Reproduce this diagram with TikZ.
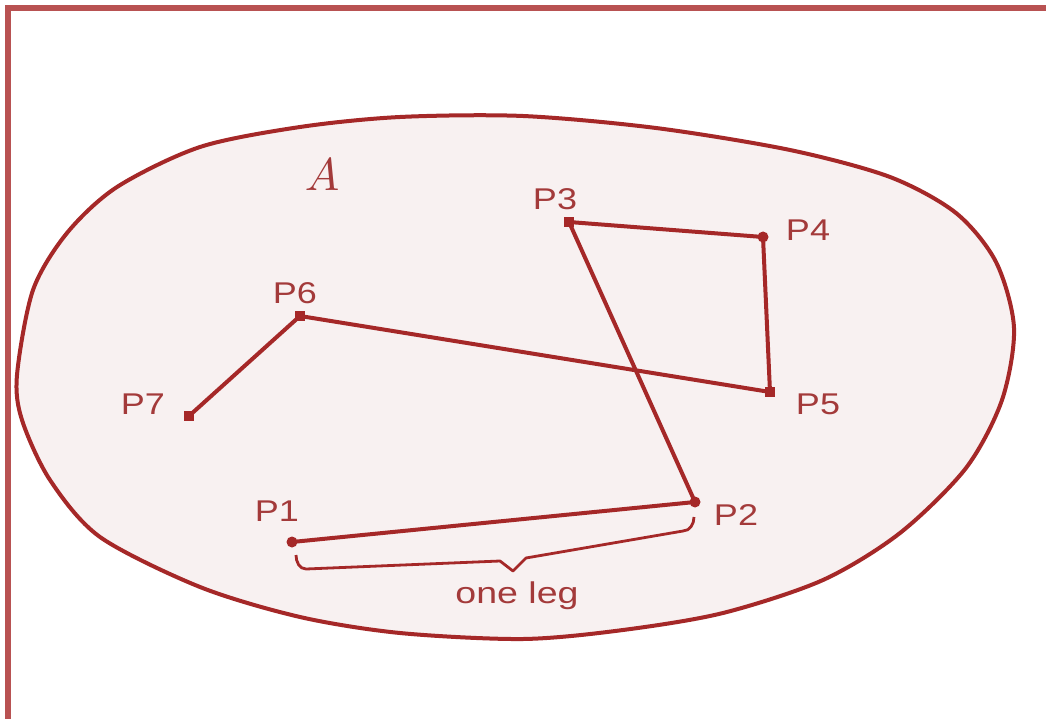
\documentclass[tikz,border=0pt]{standalone}
\usepackage{fontspec}
\usepackage{graphicx}
\newfontfamily\lab{Liberation Sans}
\definecolor{frame}{HTML}{B85252}
\definecolor{ink}{HTML}{A52828}
\definecolor{txt}{HTML}{A33A3A}
\definecolor{blobfill}{HTML}{F8F1F1}
\tikzset{
  conn/.style={draw=ink, line width=4pt},
  sqmark/.style={rectangle, fill=ink, minimum size=10pt, inner sep=0pt},
  dotmark/.style={circle, fill=ink, minimum size=11pt, inner sep=0pt},
  lbl/.style={text=txt, font=\lab\fontsize{30}{30}\selectfont, inner sep=0pt, anchor=center},
}
\begin{document}
\begin{tikzpicture}[x=1pt,y=-1pt]
\useasboundingbox (0,0) rectangle (1046,719);
\fill[white] (0,0) rectangle (1046,719);
% frame
\draw[frame, line width=6pt] (5,8.5) -- (1046,8.5);
\draw[frame, line width=6pt] (8,5.5) -- (8,719);
% set A
\draw[ink, line width=4pt, fill=blobfill] plot[smooth cycle, tension=0.5] coordinates {
 (17,375) (33,290) (67,233) (117,187) (200,147) (300,127) (400,117) (523,116)
 (656,128) (790,150) (890,177) (956,213) (996,262) (1014,328) (1002,400)
 (966,468) (900,533) (823,580) (723,613) (623,630) (523,639)
 (400,633) (300,617) (200,587) (100,537) (50,480) (22,420)};
\node[text=txt, inner sep=0pt] (setA) at (322,175) {\scalebox{4.6}{$A$}};
% points
\node[dotmark] (p1) at (292,542) {};
\node[dotmark] (p2) at (695,502) {};
\node[sqmark] (p3) at (569,222) {};
\node[dotmark] (p4) at (763,237) {};
\node[sqmark] (p5) at (770,392) {};
\node[sqmark] (p6) at (300,316) {};
\node[sqmark] (p7) at (189,416) {};
% connectors
\draw[conn] (p1.center) -- (p2.center);
\draw[conn] (p2.center) -- (p3.center);
\draw[conn] (p3.center) -- (p4.center);
\draw[conn] (p4.center) -- (p5.center);
\draw[conn] (p5.center) -- (p6.center);
\draw[conn] (p6.center) -- (p7.center);
% labels
\node[lbl] (l1) at (277,511) {\scalebox{1.2}[1]{P1}};
\node[lbl] (l2) at (736,515) {\scalebox{1.2}[1]{P2}};
\node[lbl] (l3) at (555,199) {\scalebox{1.2}[1]{P3}};
\node[lbl] (l4) at (808,230) {\scalebox{1.2}[1]{P4}};
\node[lbl] (l5) at (818,404) {\scalebox{1.2}[1]{P5}};
\node[lbl] (l6) at (295,293) {\scalebox{1.2}[1]{P6}};
\node[lbl] (l7) at (143,404) {\scalebox{1.2}[1]{P7}};
% brace
\draw[ink, line width=2.8pt, line join=round]
  (296,555) to[out=-90,in=180] (306,569) -- (500,561) -- (513,571) -- (526,558)
  -- (683,531) to[out=0,in=-90] (694,517);
\node[lbl] (leg) at (517,596) {\scalebox{1.25}[1]{one leg}};
\end{tikzpicture}
\end{document}
